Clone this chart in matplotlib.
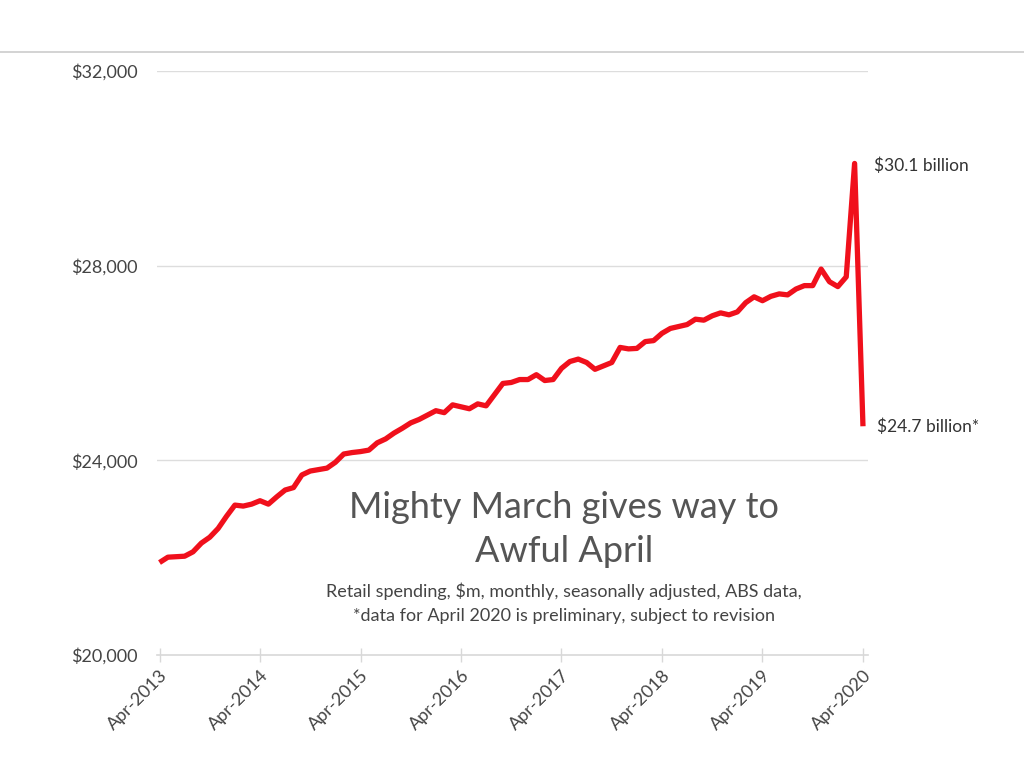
import numpy as np
import matplotlib
matplotlib.use("Agg")
import matplotlib.pyplot as plt
from matplotlib.lines import Line2D

plt.rcParams["font.family"] = ["Lato", "DejaVu Sans"]

# monthly retail spending, $m, Apr-2013 .. Apr-2020
spending = [
    21900, 22010, 22020, 22030, 22120, 22300, 22420, 22600, 22850, 23080,
    23060, 23100, 23170, 23100, 23250, 23390, 23440, 23700, 23780, 23810,
    23840, 23960, 24130, 24160, 24180, 24210, 24360, 24440, 24560, 24660,
    24770, 24840, 24930, 25020, 24980, 25140, 25100, 25060, 25160, 25120,
    25350, 25580, 25600, 25660, 25660, 25760, 25640, 25660, 25890, 26030,
    26080, 26010, 25870, 25940, 26010, 26320, 26290, 26300, 26440, 26460,
    26610, 26710, 26750, 26790, 26900, 26880, 26970, 27030, 26990, 27050,
    27240, 27360, 27280, 27370, 27420, 27400, 27520, 27590, 27590, 27930,
    27670, 27570, 27770, 30100, 24700,
]
tick_labels = ["Apr-2013", "Apr-2014", "Apr-2015", "Apr-2016",
               "Apr-2017", "Apr-2018", "Apr-2019", "Apr-2020"]
y_ticks = [20000, 24000, 28000, 32000]
peak_label = "$30.1 billion"
last_label = "$24.7 billion*"

months = np.arange(len(spending))

fig = plt.figure(figsize=(10.24, 7.68), dpi=100)
ax = fig.add_axes([157 / 1024, 1 - 655 / 768, 711 / 1024, 584 / 768])

ax.plot(months, spending, color="#f0101c", lw=3.8, solid_joinstyle="round",
        solid_capstyle="butt", zorder=3)

ax.set_xlim(-0.3, 84.6)
ax.set_ylim(20000, 32000)
ax.set_yticks(y_ticks)
ax.set_yticklabels([f"${v:,.0f}" for v in y_ticks])
ax.set_xticks(np.arange(0, 85, 12))
ax.set_xticklabels(tick_labels, rotation=45, ha="right", rotation_mode="anchor")

for v in y_ticks[1:]:
    ax.axhline(v, color="#dddddd", lw=1, zorder=1)

for s in ["top", "right", "left"]:
    ax.spines[s].set_visible(False)
ax.spines["bottom"].set_color("#d8d8d8")
ax.spines["bottom"].set_linewidth(1.2)
ax.tick_params(axis="y", length=0, pad=14, labelsize=13, labelcolor="#444444")
ax.tick_params(axis="x", direction="inout", length=10, width=1, color="#d8d8d8",
               pad=4, labelsize=13, labelcolor="#444444")

ax.annotate(peak_label, (83, spending[83]), xytext=(19, -2),
            textcoords="offset pixels", va="center", ha="left",
            fontsize=12.5, color="#333333")
ax.annotate(last_label, (84, spending[84]), xytext=(14, 0),
            textcoords="offset pixels", va="center", ha="left",
            fontsize=12.5, color="#333333")

fig.text(564 / 1024, 1 - 507 / 768, "Mighty March gives way to", ha="center",
         va="center", fontsize=26, color="#555555")
fig.text(564 / 1024, 1 - 552 / 768, "Awful April", ha="center",
         va="center", fontsize=26, color="#555555")
fig.text(564 / 1024, 1 - 591 / 768,
         "Retail spending, $m, monthly, seasonally adjusted, ABS data,",
         ha="center", va="center", fontsize=13, color="#444444")
fig.text(564 / 1024, 1 - 616 / 768,
         "*data for April 2020 is preliminary, subject to revision",
         ha="center", va="center", fontsize=13, color="#444444")

# thin rule across the top of the screenshot
fig.add_artist(Line2D([0, 1], [1 - 52 / 768] * 2, transform=fig.transFigure,
                      color="#cccccc", lw=1.2))

fig.savefig("out.png", dpi=100)
